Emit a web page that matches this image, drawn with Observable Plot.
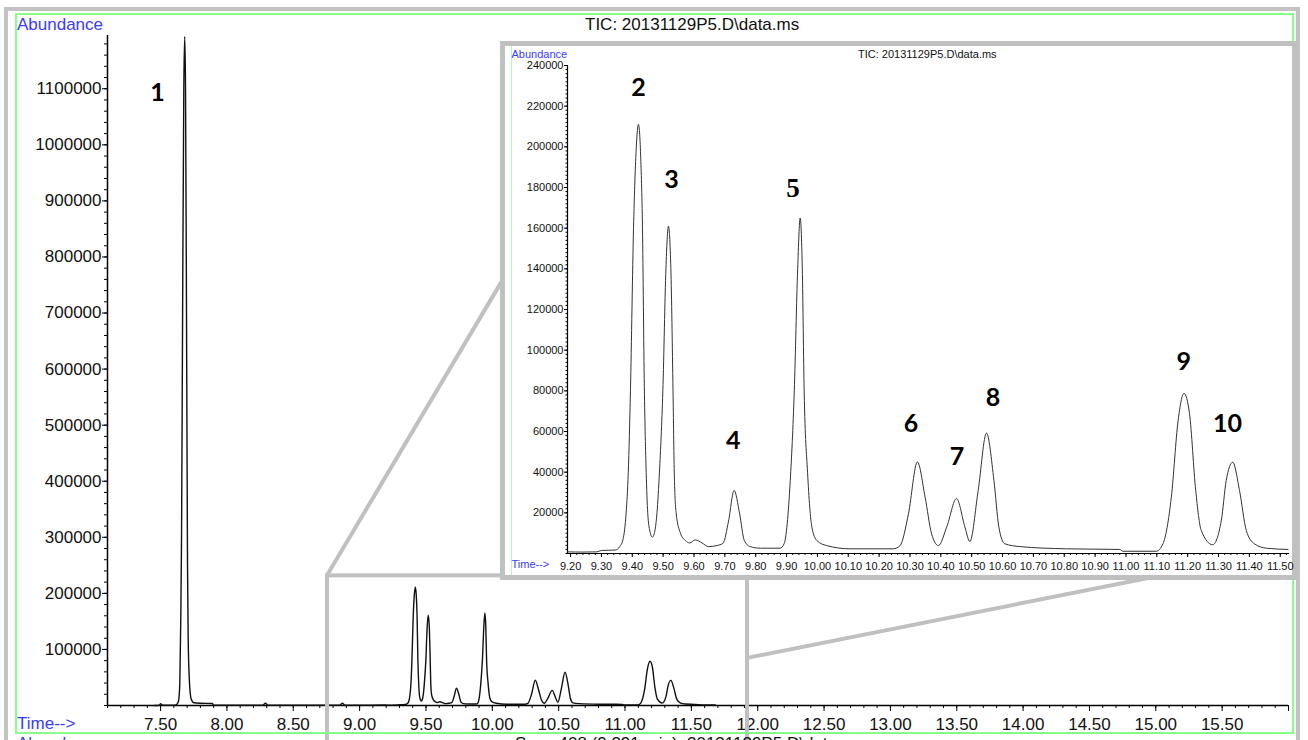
<!DOCTYPE html>
<html><head><meta charset="utf-8">
<script src="https://cdn.jsdelivr.net/npm/d3@7"></script>
<script src="https://cdn.jsdelivr.net/npm/@observablehq/plot@0.6"></script>
<style>
html,body{margin:0;padding:0;background:#fff;}
#page{position:relative;width:1308px;height:740px;overflow:hidden;background:#fff;font-family:'Liberation Sans',Arial,sans-serif;}
.abs{position:absolute;white-space:nowrap;line-height:1;}
.blue{color:#3b3bff;}
</style></head><body><div id="page"></div>
<script>
// ---------- DATA ----------
// Main chromatogram before the zoomed region (time in min, abundance)
const earlyTimes = [7.45, 7.49, 7.50, 7.515, 7.60, 7.62, 7.635, 7.645, 7.652, 7.658, 7.666, 7.675, 7.682, 7.688, 7.697, 7.703, 7.708, 7.718, 7.73, 7.75, 7.80, 7.89, 7.90, 8.27, 8.29, 8.31, 8.85, 8.87, 8.89];
const earlyAbund = [0, 500, 3000, 500, 500, 1500, 8000, 40000, 150000, 300000, 700000, 1100000, 1193000, 1100000, 600000, 250000, 120000, 40000, 12000, 5000, 4000, 3500, 500, 500, 4000, 500, 500, 4000, 500];
// Zoomed region 9.19 - 11.53 min (shared by inset and main chart)
const insetTimes = [9.19, 9.24, 9.285, 9.30, 9.345, 9.36, 9.37, 9.38, 9.387, 9.394, 9.404, 9.413, 9.42, 9.427, 9.433, 9.439, 9.445, 9.45, 9.457, 9.465, 9.473, 9.48, 9.488, 9.499, 9.509, 9.517, 9.525, 9.532, 9.536, 9.542, 9.556, 9.572, 9.586, 9.604, 9.626, 9.647, 9.674, 9.694, 9.712, 9.73, 9.748, 9.763, 9.782, 9.815, 9.879, 9.892, 9.912, 9.925, 9.936, 9.944, 9.951, 9.957, 9.968, 9.982, 9.998, 10.03, 10.106, 10.246, 10.268, 10.295, 10.324, 10.349, 10.37, 10.392, 10.419, 10.451, 10.478, 10.494, 10.521, 10.548, 10.572, 10.588, 10.607, 10.656, 10.807, 10.98, 10.99, 11.098, 11.12, 11.147, 11.169, 11.188, 11.206, 11.226, 11.244, 11.281, 11.309, 11.325, 11.346, 11.368, 11.39, 11.416, 11.455, 11.525];
const insetAbund = [800, 700, 800, 1500, 1700, 3500, 7000, 20000, 40000, 80000, 160000, 200000, 211000, 196000, 160000, 82000, 40000, 20000, 11000, 8000, 11000, 20000, 40000, 80000, 140000, 161000, 140000, 80000, 40000, 20000, 10000, 6400, 5200, 6700, 5200, 3400, 3900, 5000, 16000, 31000, 19500, 6400, 3400, 2600, 2600, 4800, 36000, 80000, 140000, 165000, 140000, 80000, 40000, 13000, 6400, 3900, 2300, 2300, 3900, 19500, 45000, 27700, 9700, 3900, 13000, 27000, 13000, 5900, 31000, 59200, 36000, 13000, 4800, 3400, 2300, 2000, 1100, 1100, 4800, 27700, 65400, 78800, 68700, 31000, 11300, 4300, 16200, 36000, 44900, 31000, 11300, 4800, 2600, 2000];
const tailTimes = [11.60, 11.68];
const tailAbund = [1000, 800];

// Peak labels
const mainLabelText = ["1"];
const mainLabelTime = [7.477];
const mainLabelAbund = [1092900];
const peakLabelText = ["2", "3", "4", "5", "6", "7", "8", "9", "10"];
const peakLabelTime = [9.42, 9.527, 9.727, 9.921, 10.303, 10.452, 10.569, 11.187, 11.329];
const peakLabelAbund = [228700, 183500, 55100, 179500, 63900, 47700, 76700, 94000, 63500];
const peakLabelSerif = [false, false, false, true, false, false, false, false, false];

// Axes
const mainXDomain = [7.1, 16.0];
const mainYDomain = [0, 1195000];
const mainXMajor = d3.range(15, 33).map(i => i / 2);          // 7.5 .. 16.0
const mainXMinor = d3.range(71, 161).map(i => i / 10);        // every 0.1
const mainYMajor = d3.range(1, 12).map(i => i * 100000);      // 100000 .. 1100000
const mainYMinor = d3.range(0, 60).map(i => i * 20000);
const insetXDomain = [9.19, 11.53];
const insetYDomain = [0, 240000];
const insetXMajor = d3.range(92, 116).map(i => i / 10);       // 9.20 .. 11.50
const insetXMinor = d3.range(460, 577).map(i => i / 50);      // every 0.02
const insetYMajor = d3.range(1, 13).map(i => i * 20000);
const insetYMinor = d3.range(0, 121).map(i => i * 2000);
// Zoom box in main chart (data units)
const zoomBox = {x1: 8.758, x2: 11.923, y1: -70000, y2: 231250};

// ---------- BUILD ----------
const toRows = (ts, as) => ts.map((t, i) => ({t, a: as[i]}));
const insetData = toRows(insetTimes, insetAbund);
const mainData = [...toRows(earlyTimes, earlyAbund), ...insetData, ...toRows(tailTimes, tailAbund)];
const mainLabels = mainLabelText.map((s, i) => ({label: s, t: mainLabelTime[i], a: mainLabelAbund[i]}));
const peakLabels = peakLabelText.map((s, i) => ({label: s, t: peakLabelTime[i], a: peakLabelAbund[i], serif: peakLabelSerif[i]}));

const page = document.getElementById("page");
const font = "'Liberation Sans', Arial, sans-serif";

const main = Plot.plot({
  width: 1308, height: 740,
  marginLeft: 107, marginRight: 20, marginTop: 35, marginBottom: 35,
  x: {domain: mainXDomain, label: null},
  y: {domain: mainYDomain, label: null},
  style: {fontFamily: font, fontSize: "17px", color: "#111", background: "transparent", overflow: "visible"},
  marks: [
    Plot.axisY(mainYMinor, {tickSize: 3, tickFormat: () => "", label: null, stroke: "#000"}),
    Plot.axisY(mainYMajor, {tickSize: 5, tickPadding: 1, tickFormat: d => String(d), label: null, fontSize: 17, stroke: "#000"}),
    Plot.axisX(mainXMinor, {tickSize: 3, tickFormat: () => "", label: null, stroke: "#000"}),
    Plot.axisX(mainXMajor, {tickSize: 6, tickPadding: 6, tickFormat: d => d >= 16 ? "" : d.toFixed(2), label: null, fontSize: 17, stroke: "#000"}),
    Plot.ruleX([mainXDomain[0]], {stroke: "#000", strokeWidth: 1.5}),
    Plot.ruleY([0], {stroke: "#000", strokeWidth: 1.5}),
    Plot.line(mainData, {x: "t", y: "a", curve: "monotone-x", stroke: "#111", strokeWidth: 1.4}),
    Plot.text(mainLabels, {x: "t", y: "a", text: "label", fontFamily: "Lato", fontWeight: 700, fontSize: 25, fill: "#000"}),
    Plot.rect([zoomBox], {x1: "x1", x2: "x2", y1: "y1", y2: "y2", fill: "none", stroke: "#c0c0c0", strokeWidth: 4})
  ]
});
main.style.position = "absolute"; main.style.left = "0px"; main.style.top = "0px";
page.appendChild(main);

// frames
function box(l, t, w, h, css) {
  const d = document.createElement("div");
  d.style.cssText = `position:absolute;left:${l}px;top:${t}px;width:${w}px;height:${h}px;box-sizing:border-box;${css}`;
  page.appendChild(d); return d;
}
box(4, 7, 1296, 760, "border:4px solid #c3c3c3;");
box(15, 13, 1279, 721, "border:2px solid #88ff88;");

function label(txt, l, t, size, cls, extra) {
  const d = document.createElement("div");
  d.className = "abs " + (cls || "");
  d.style.left = l + "px"; d.style.top = t + "px"; d.style.fontSize = size + "px";
  if (extra) d.style.cssText += extra;
  d.textContent = txt; page.appendChild(d); return d;
}
label("Abundance", 17, 15.8, 17, "blue");
label("TIC: 20131129P5.D\\data.ms", 585, 15.8, 17, "", "color:#111;");
label("Time-->", 17, 714.8, 17, "blue");
label("Abundance", 17, 735, 17, "blue");
label("Scan 408 (9.391 min): 20131129P5.D\\data.ms", 515, 735, 17, "", "color:#111;");

// inset
const insetBox = {left: 500, top: 41, width: 797, height: 539, border: 5};
const inset = Plot.plot({
  width: insetBox.width - 2 * insetBox.border, height: insetBox.height - 2 * insetBox.border,
  marginLeft: 62, marginRight: 3, marginTop: 19, marginBottom: 22,
  x: {domain: insetXDomain, label: null},
  y: {domain: insetYDomain, label: null},
  style: {fontFamily: font, fontSize: "11px", color: "#111", background: "transparent", overflow: "visible"},
  marks: [
    Plot.axisY(insetYMinor, {tickSize: 1.5, tickFormat: () => "", label: null, stroke: "#000"}),
    Plot.axisY(insetYMajor, {tickSize: 3, tickPadding: 1, tickFormat: d => String(d), label: null, fontSize: 11, stroke: "#000"}),
    Plot.axisX(insetXMinor, {tickSize: 2, tickFormat: () => "", label: null, stroke: "#000"}),
    Plot.axisX(insetXMajor, {tickSize: 4, tickPadding: 5, tickFormat: d => d.toFixed(2), label: null, fontSize: 11, stroke: "#000"}),
    Plot.ruleX([insetXDomain[0]], {stroke: "#000", strokeWidth: 1.2}),
    Plot.ruleY([0], {stroke: "#000", strokeWidth: 1.2}),
    Plot.line(insetData, {x: "t", y: "a", curve: "monotone-x", stroke: "#333", strokeWidth: 1}),
    Plot.text(peakLabels.filter(d => !d.serif), {x: "t", y: "a", text: "label", fontFamily: "Lato", fontWeight: 700, fontSize: 25, fill: "#000"}),
    Plot.text(peakLabels.filter(d => d.serif), {x: "t", y: "a", text: "label", fontFamily: "'Liberation Serif', serif", fontWeight: 700, fontSize: 27, fill: "#000"})
  ]
});

// connecting lines (between main zoom box and inset)
const mx = main.scale("x"), my = main.scale("y"), ix = inset.scale("x");
const inLeft = insetBox.left + insetBox.border, inTop = insetBox.top + insetBox.border;
const ns = "http://www.w3.org/2000/svg";
const ov = d3.create("svg").attr("width", 1308).attr("height", 740)
  .style("position", "absolute").style("left", "0px").style("top", "0px");
const links = [
  [mx.apply(zoomBox.x1), my.apply(zoomBox.y2), insetBox.left + 2, insetBox.top + 0.445 * insetBox.height],
  [mx.apply(zoomBox.x2), my.apply(84000), inLeft + ix.apply(11.09), insetBox.top + insetBox.height - 3]
];
ov.selectAll("line").data(links).join("line")
  .attr("x1", d => d[0]).attr("y1", d => d[1]).attr("x2", d => d[2]).attr("y2", d => d[3])
  .attr("stroke", "#c0c0c0").attr("stroke-width", 4);
page.appendChild(ov.node());

const ib = box(insetBox.left, insetBox.top, insetBox.width, insetBox.height, `border:${insetBox.border}px solid #c0c0c0;background:#fff;`);
const gl = document.createElement("div");
gl.style.cssText = "position:absolute;left:6px;top:0;width:1px;height:100%;background:#b0ffb0;";
ib.appendChild(gl);
inset.style.position = "absolute"; inset.style.left = "0px"; inset.style.top = "0px";
ib.appendChild(inset);
function ilabel(txt, l, t, cls, extra) {
  const d = document.createElement("div");
  d.className = "abs " + (cls || "");
  d.style.left = (l - inLeft) + "px"; d.style.top = (t - inTop) + "px"; d.style.fontSize = "11px";
  if (extra) d.style.cssText += extra;
  d.textContent = txt; ib.appendChild(d);
}
ilabel("Abundance", 511.5, 48.6, "blue");
ilabel("TIC: 20131129P5.D\\data.ms", 858, 48.6, "", "color:#111;");
ilabel("Time-->", 511.5, 558.8, "blue");
</script></body></html>
